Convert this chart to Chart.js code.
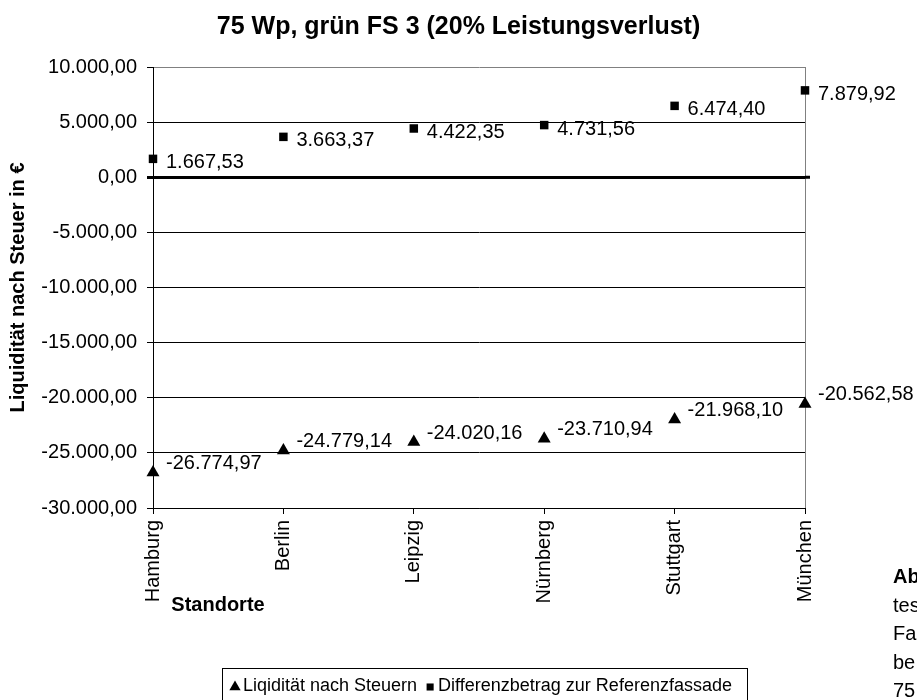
<!DOCTYPE html>
<html lang="de">
<head>
<meta charset="utf-8">
<title>75 Wp, grün FS 3</title>
<script src="https://cdn.jsdelivr.net/npm/chart.js@4.4.0/dist/chart.umd.min.js"></script>
<style>
  html, body { margin: 0; padding: 0; background: #fff; overflow: hidden; }
  #wrap { position: relative; width: 917px; height: 700px; overflow: hidden; }
  #caption {
    position: absolute; left: 893px; top: 562px;
    font: 20px "Liberation Sans", Arial, sans-serif; line-height: 28.5px;
    color: #000; white-space: nowrap;
  }
</style>
</head>
<body>
<div id="wrap">
  <canvas id="chart" width="917" height="700"></canvas>
  <div id="caption"><b>Ab</b><br>tes<br>Fa<br>be<br>75</div>
</div>
<script>
const categories = ["Hamburg", "Berlin", "Leipzig", "Nürnberg", "Stuttgart", "München"];
const liquiditaet = [-26774.97, -24779.14, -24020.16, -23710.94, -21968.10, -20562.58];
const differenz = [1667.53, 3663.37, 4422.35, 4731.56, 6474.40, 7879.92];
const seriesNames = ["Liqidität nach Steuern", "Differenzbetrag zur Referenzfassade"];
const yMin = -30000;
const yMax = 10000;
const yStep = 5000;

const FONT = "'Liberation Sans', Arial, sans-serif";
Chart.defaults.font.family = FONT;
Chart.defaults.color = "#000";

// 1234.5 -> "1.234,50"
const fmt = (v) => {
  const neg = v < 0;
  const [i, d] = Math.abs(v).toFixed(2).split(".");
  return (neg ? "-" : "") + i.replace(/\B(?=(\d{3})+(?!\d))/g, ".") + "," + d;
};

// value labels right of each marker
const pointLabels = {
  id: "pointLabels",
  afterDatasetsDraw(chart) {
    const ctx = chart.ctx;
    ctx.save();
    ctx.font = "20px " + FONT;
    ctx.fillStyle = "#000";
    ctx.textAlign = "left";
    ctx.textBaseline = "middle";
    chart.data.datasets.forEach((ds, i) => {
      const dy = ds.pointStyle === "triangle" ? -9 : 4;
      chart.getDatasetMeta(i).data.forEach((pt, j) => {
        ctx.fillText(fmt(ds.data[j]), pt.x + 13, pt.y + dy);
      });
    });
    ctx.restore();
  }
};

// x-axis title, zero line overhang and the boxed legend at the bottom
const extras = {
  id: "extras",
  afterDraw(chart) {
    const ctx = chart.ctx;
    const area = chart.chartArea;
    const y0 = chart.scales.y.getPixelForValue(0);
    ctx.save();
    ctx.strokeStyle = "#000";
    ctx.lineWidth = 3;
    ctx.beginPath();
    ctx.moveTo(area.right, y0);
    ctx.lineTo(area.right + 5, y0);
    ctx.stroke();

    ctx.fillStyle = "#000";
    ctx.font = "bold 20px " + FONT;
    ctx.textAlign = "center";
    ctx.textBaseline = "middle";
    ctx.fillText("Standorte", 218, 605);

    const left = 222, top = 668, y = 686;
    ctx.lineWidth = 1;
    ctx.strokeRect(left + 0.5, top + 0.5, 525, 50);
    ctx.font = "18px " + FONT;
    ctx.textAlign = "left";
    let x = left + 8;
    chart.data.datasets.forEach((ds) => {
      Chart.helpers.drawPoint(ctx, {
        pointStyle: ds.pointStyle,
        radius: ds.pointStyle === "triangle" ? 6.5 : 5,
        rotation: 0,
        borderWidth: 0
      }, x + 5, y + 1);
      ctx.fillStyle = "#000";
      ctx.fillText(ds.label, x + 13, y);
      x += 13 + ctx.measureText(ds.label).width + 8;
    });
    ctx.restore();
  }
};

new Chart(document.getElementById("chart"), {
  type: "line",
  data: {
    labels: categories,
    datasets: [
      {
        label: seriesNames[0],
        data: liquiditaet,
        showLine: false,
        pointStyle: "triangle",
        pointRadius: 7.5,
        pointHoverRadius: 7.5,
        backgroundColor: "#000",
        borderColor: "#000",
        pointBorderWidth: 0
      },
      {
        label: seriesNames[1],
        data: differenz,
        showLine: false,
        pointStyle: "rect",
        pointRadius: 6,
        pointHoverRadius: 6,
        backgroundColor: "#000",
        borderColor: "#000",
        pointBorderWidth: 0
      }
    ]
  },
  options: {
    responsive: false,
    animation: false,
    events: [],
    clip: false,
    layout: { padding: { left: 0, right: 0, top: 0, bottom: 82 } },
    plugins: {
      legend: { display: false },
      tooltip: { enabled: false },
      title: {
        display: true,
        text: "75 Wp, grün FS 3 (20% Leistungsverlust)",
        font: { family: FONT, size: 25, weight: "bold" },
        color: "#000",
        padding: { top: 12, bottom: 25 }
      }
    },
    scales: {
      x: {
        offset: false,
        afterFit: (s) => { s.height = 110; },
        grid: {
          color: (c) => (c.index === categories.length - 1 ? "#808080" : "rgba(0,0,0,0)"),
          tickColor: "#000",
          tickLength: 6
        },
        border: { color: "#000", width: 1 },
        ticks: {
          font: { size: 20 },
          color: "#000",
          maxRotation: 90,
          minRotation: 90,
          autoSkip: false,
          padding: 6
        }
      },
      y: {
        min: yMin,
        max: yMax,
        afterFit: (s) => { s.width = 153; },
        grid: {
          color: (c) => (c.tick && c.tick.value === yMax ? "#808080" : "#000"),
          lineWidth: (c) => (c.tick && c.tick.value === 0 ? 3 : 1),
          tickColor: "#000",
          tickLength: 6
        },
        border: { color: "#000", width: 1 },
        ticks: {
          stepSize: yStep,
          font: { size: 20 },
          color: "#000",
          padding: 10,
          callback: (v) => fmt(v)
        },
        title: {
          display: true,
          text: "Liquidität nach Steuer in €",
          font: { family: FONT, size: 20, weight: "bold" },
          color: "#000",
          padding: { top: 6, bottom: 0 }
        }
      },
      spacer: {
        position: "right",
        afterFit: (s) => { s.width = 112; },
        grid: { display: false },
        border: { display: false },
        ticks: { display: false }
      }
    }
  },
  plugins: [pointLabels, extras]
});
</script>
</body>
</html>
